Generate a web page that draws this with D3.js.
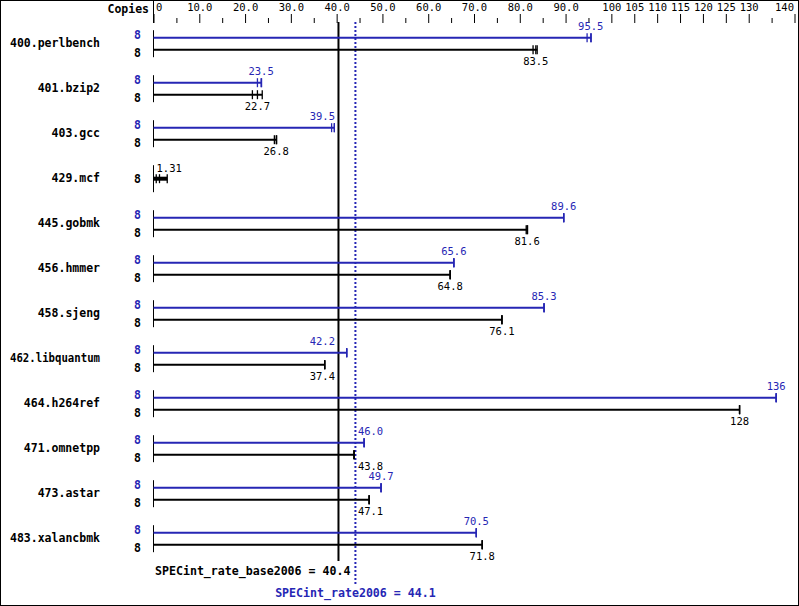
<!DOCTYPE html>
<html><head><meta charset="utf-8">
<script src="https://cdn.jsdelivr.net/npm/d3@7"></script>
<style>
body{margin:0;background:#fff;}
svg{display:block;}
text{font-family:"DejaVu Sans Mono",monospace;}
</style></head>
<body>
<svg id="chart" width="799" height="606"></svg>
<script>
const benchmarks = ["400.perlbench","401.bzip2","403.gcc","429.mcf","445.gobmk","456.hmmer","458.sjeng","462.libquantum","464.h264ref","471.omnetpp","473.astar","483.xalancbmk"];
const baseValues = [83.5,22.7,26.8,1.31,81.6,64.8,76.1,37.4,128,43.8,47.1,71.8];
const peakValues = [95.5,23.5,39.5,null,89.6,65.6,85.3,42.2,136,46.0,49.7,70.5];
const baseRuns = [[82.9,83.5,83.8],[21.6,22.7,23.75],[26.4,26.8,26.9],[0.6,1.31,3.0],[81.4,81.6,81.7],[64.8,64.8,64.8],[76.1,76.1,76.1],[37.4,37.4,37.4],[128,128,128],[43.8,43.8,43.8],[47.1,47.1,47.1],[71.8,71.8,71.8]];
const peakRuns = [[94.7,95.5,95.6],[22.7,23.5,23.6],[38.9,39.5,39.5],null,[89.6,89.6,89.6],[65.6,65.6,65.6],[85.3,85.3,85.3],[42.2,42.2,42.2],[136,136,136],[46.0,46.0,46.0],[49.7,49.7,49.7],[70.5,70.5,70.5]];
const baseCopies = [8,8,8,8,8,8,8,8,8,8,8,8];
const peakCopies = [8,8,8,null,8,8,8,8,8,8,8,8];
const majorTicks = [0,10,20,30,40,50,60,70,80,90,100,105,110,115,120,125,130,140];
const majorLabels = ["0","10.0","20.0","30.0","40.0","50.0","60.0","70.0","80.0","90.0","100","105","110","115","120","125","130","140"];
const minorTicks = [5,15,25,35,45,55,65,75,85,95,135];
const baseMean = 40.4, peakMean = 44.1;
const baseMeanLabel = "SPECint_rate_base2006 = 40.4";
const peakMeanLabel = "SPECint_rate2006 = 44.1";

const BLUE = "#2626b4", BLACK = "#000";
const svg = d3.select("#chart");
const W = 799, H = 606;
svg.append("rect").attr("x",0.5).attr("y",0.5).attr("width",W-1).attr("height",H-1).attr("fill","#fff").attr("stroke","#000");

const x = d3.scaleLinear().domain([0,140]).range([153.5,794.5]);
const y = d3.scalePoint().domain(benchmarks).range([43.7, 43.7+45*11]);
const x0 = x(0);

// top axis
const axTop = svg.append("g").attr("transform","translate(0,23)")
  .call(d3.axisTop(x).tickValues(majorTicks).tickSize(9).tickPadding(3).tickFormat((d,i)=>majorLabels[i]));
axTop.select(".domain").remove();
axTop.selectAll("text").attr("font-size","10.5px").attr("fill","#000").style("font-family",'"DejaVu Sans Mono",monospace');
axTop.selectAll("line").attr("stroke","#000");
axTop.selectAll(".tick").each(function(d){
  const t = d3.select(this).select("text");
  if (d===0) t.attr("text-anchor","start").attr("x",2);
  if (d===140) t.attr("text-anchor","end").attr("x",-1);
});
const axMinor = svg.append("g").attr("transform","translate(0,23)")
  .call(d3.axisTop(x).tickValues(minorTicks).tickSize(5).tickFormat(""));
axMinor.select(".domain").remove();
axMinor.selectAll("line").attr("stroke","#000");
svg.append("line").attr("x1",x0).attr("x2",x0).attr("y1",0).attr("y2",23).attr("stroke","#000");
svg.append("text").text("Copies").attr("x",149).attr("y",13).attr("text-anchor","end")
  .attr("font-size","11.5px").attr("font-weight","bold");

// mean lines
svg.append("line").attr("x1",x(baseMean)).attr("x2",x(baseMean)).attr("y1",22).attr("y2",561)
  .attr("stroke","#000").attr("stroke-width",2);
svg.append("line").attr("x1",x(peakMean)).attr("x2",x(peakMean)).attr("y1",22).attr("y2",584)
  .attr("stroke",BLUE).attr("stroke-width",2).attr("stroke-dasharray","2,2");
svg.append("text").text(baseMeanLabel).attr("x",155).attr("y",574.5)
  .attr("font-size","11.6px").attr("font-weight","bold").attr("fill","#000");
svg.append("text").text(peakMeanLabel).attr("x",x(peakMean)).attr("y",596.5).attr("text-anchor","middle")
  .attr("font-size","11.6px").attr("font-weight","bold").attr("fill",BLUE);

const fmt = d3.format(".3r");
const lineXs = [x(baseMean), x(peakMean)];

function valueLabel(g, v, ly, color){
  const t = g.append("text").text(fmt(v)).attr("y",ly).attr("font-size","10.5px").attr("fill",color);
  const w = t.node().getComputedTextLength();
  const cx = x(v);
  let left = cx - w/2;
  const m = 2.5;
  const ov = lx => left < lx + m && left + w > lx - m;
  if (ov(lineXs[0]) || ov(lineXs[1])) {
    const dB = Math.abs(cx - lineXs[0]), dP = Math.abs(cx - lineXs[1]);
    if (dB <= dP) left = lineXs[0] - m - 1 - w; else left = lineXs[1] + m;
  }
  if (left < x0 + 3) left = x0 + 3;
  t.attr("x",left);
}

function bar(g, runs, med, yy, color, thick){
  const mx = d3.max(runs);
  g.append("line").attr("x1",x0).attr("x2",x(mx)).attr("y1",yy).attr("y2",yy)
    .attr("stroke",color).attr("stroke-width",thick);
  runs.forEach(r=>{
    g.append("line").attr("x1",x(r)).attr("x2",x(r)).attr("y1",yy-4.5).attr("y2",yy+4.5)
      .attr("stroke",color).attr("stroke-width",1.3);
  });
}

benchmarks.forEach((b,i)=>{
  const c = y(b);
  const g = svg.append("g");
  g.append("line").attr("x1",x0).attr("x2",x0).attr("y1",c-13.5).attr("y2",c+13.5).attr("stroke","#000");
  const lbl = g.append("text").text(b).attr("x",100).attr("y",c+3.5).attr("text-anchor","end")
    .attr("font-size","11.5px").attr("font-weight","bold");
  const lw = lbl.node().getComputedTextLength();
  if (lw > 90) lbl.attr("textLength",90).attr("lengthAdjust","spacingAndGlyphs");
  if (peakValues[i] != null) {
    const yp = c-6, yb = c+6;
    bar(g, peakRuns[i], peakValues[i], yp, BLUE, 2);
    bar(g, baseRuns[i], baseValues[i], yb, BLACK, 2);
    g.append("text").text(peakCopies[i]).attr("x",141).attr("y",yp+1.5).attr("text-anchor","end")
      .attr("font-size","11.5px").attr("font-weight","bold").attr("fill",BLUE);
    g.append("text").text(baseCopies[i]).attr("x",141).attr("y",yb+7).attr("text-anchor","end")
      .attr("font-size","11.5px").attr("font-weight","bold").attr("fill",BLACK);
    valueLabel(g, peakValues[i], yp-7.5, BLUE);
    valueLabel(g, baseValues[i], yb+15.5, BLACK);
  } else {
    bar(g, baseRuns[i], baseValues[i], c, BLACK, 4);
    g.append("text").text(baseCopies[i]).attr("x",141).attr("y",c+4).attr("text-anchor","end")
      .attr("font-size","11.5px").attr("font-weight","bold").attr("fill",BLACK);
    valueLabel(g, baseValues[i], c-7, BLACK);
  }
});
</script>
</body></html>
